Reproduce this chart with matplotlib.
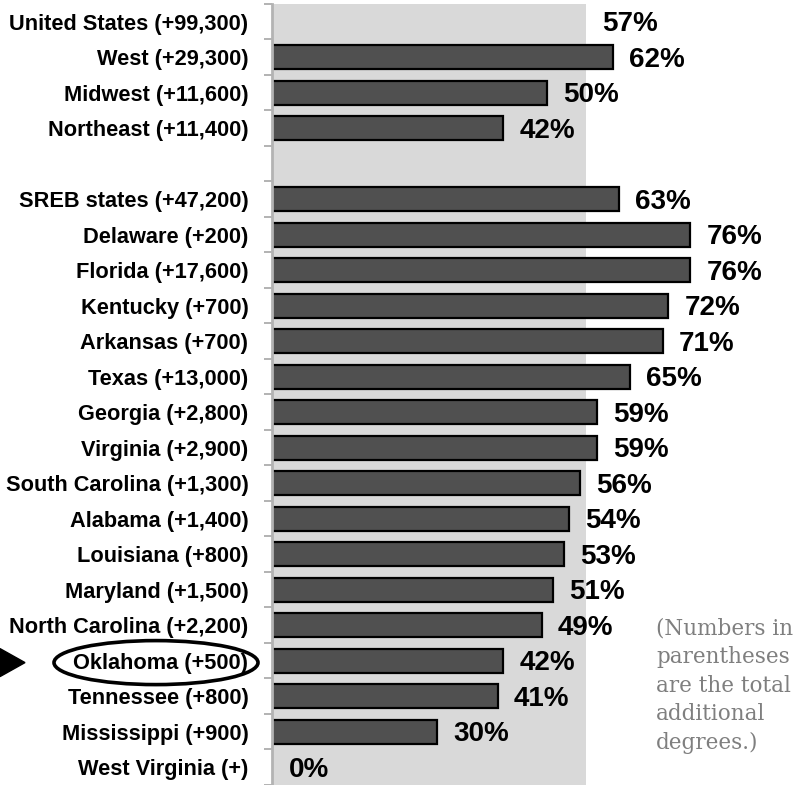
import numpy as np
import matplotlib
matplotlib.use('Agg')
import matplotlib.pyplot as plt
from matplotlib.patches import Ellipse, Polygon

# data
us_label = 'United States (+99,300)'
us_value = 57
categories = ['West (+29,300)', 'Midwest (+11,600)', 'Northeast (+11,400)', '',
              'SREB states (+47,200)', 'Delaware (+200)', 'Florida (+17,600)',
              'Kentucky (+700)', 'Arkansas (+700)', 'Texas (+13,000)',
              'Georgia (+2,800)', 'Virginia (+2,900)', 'South Carolina (+1,300)',
              'Alabama (+1,400)', 'Louisiana (+800)', 'Maryland (+1,500)',
              'North Carolina (+2,200)', 'Oklahoma (+500)', 'Tennessee (+800)',
              'Mississippi (+900)', 'West Virginia (+)']
values = [62, 50, 42, np.nan,
          63, 76, 76, 72, 71, 65, 59, 59, 56, 54, 53, 51, 49, 42, 41, 30, 0]
note = '(Numbers in\nparentheses\nare the total\nadditional\ndegrees.)'

W, H = 799, 785
fig = plt.figure(figsize=(W/100, H/100), dpi=100)
pitch = 35.6
top_px = 4
n = len(categories) + 1
ax = fig.add_axes([272/W, 0, (W-272)/W, 1])
ax.set_xlim(0, (W-272)/5.5)
ytop = -0.5 - top_px/pitch
ax.set_ylim(ytop + H/pitch, ytop)

lab_dy = 0.07  # value labels sit a touch low

# US average as gray backdrop
ax.fill_betweenx([-0.5, n-0.5], 0, us_value, color='#d9d9d9', zorder=0, lw=0)
ax.text(us_value + 3, 0 + lab_dy, '%d%%' % us_value, va='center', ha='left',
        fontsize=20, fontweight='bold', family='Liberation Sans')

ypos = np.arange(1, n)
for y, v in zip(ypos, values):
    if np.isnan(v):
        continue
    if v > 0:
        ax.barh(y, v, height=0.68, color='#505050', edgecolor='black', lw=1.6, zorder=2)
    ax.text(v + 3, y + lab_dy, '%d%%' % v, va='center', ha='left',
            fontsize=20, fontweight='bold', family='Liberation Sans')

ax.set_yticks(np.arange(n))
ax.set_yticklabels([us_label] + categories, fontsize=15.7, fontweight='bold',
                   family='Liberation Sans')
ax.set_yticks(np.arange(n+1) - 0.5, minor=True)
ax.tick_params(axis='y', which='major', length=0, pad=17)
ax.tick_params(axis='y', which='minor', length=6, width=1.2, color='#a6a6a6')
ax.set_xticks([])
for s in ['top', 'right', 'bottom']:
    ax.spines[s].set_visible(False)
ax.spines['left'].set_color('#b3b3b3')
ax.spines['left'].set_linewidth(2)
ax.spines['left'].set_bounds(-0.5, n-0.5)
ax.set_facecolor('none')

# overlay for annotations (pixel coords)
ov = fig.add_axes([0, 0, 1, 1])
ov.set_xlim(0, W)
ov.set_ylim(H, 0)
ov.axis('off')
ov.patch.set_alpha(0)
ok_y = top_px + pitch * (categories.index('Oklahoma (+500)') + 1.5)
ov.add_patch(Ellipse((156, ok_y), 204, 44, fill=False, ec='black', lw=2.6))
ov.add_patch(Polygon([[0, ok_y-14], [0, ok_y+14], [25, ok_y]], closed=True,
                     color='black'))
ov.text(656, 617, note, ha='left', va='top', fontsize=15.5, color='#7f7f7f',
        family='DejaVu Serif', linespacing=1.4)

fig.savefig('out.png', dpi=100)
